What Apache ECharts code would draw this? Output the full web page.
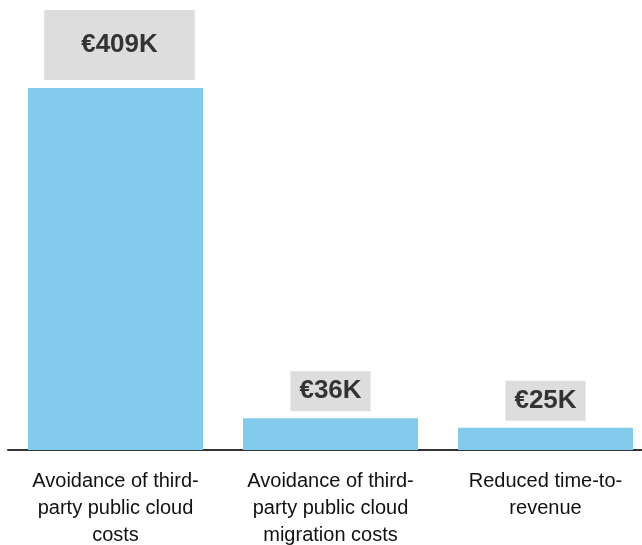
<!DOCTYPE html>
<html><head><meta charset="utf-8">
<script src="https://cdn.jsdelivr.net/npm/echarts@6/dist/echarts.min.js"></script>
<style>html,body{margin:0;padding:0;background:#fff;overflow:hidden;width:642px;height:545px}#c{width:660px;height:545px}</style>
</head><body><div id="c"></div>
<script>
const categories = ["Avoidance of third-\nparty public cloud\ncosts", "Avoidance of third-\nparty public cloud\nmigration costs", "Reduced time-to-\nrevenue"];
const values = [409, 36, 25];
const valueLabels = ["€409K", "€36K", "€25K"];

const chart = echarts.init(document.getElementById('c'), null, {renderer: 'canvas', width: 660, height: 545});
const data = values.map((v, i) => ({
  value: v,
  label: i === 0 ? {padding: [22, 37, 22, 37], offset: [4, 0], distance: 8} : {padding: [7, 9, 7, 9]}
}));
chart.setOption({
  animation: false,
  grid: {left: 8, width: 645, top: 88, height: 362, containLabel: false, outerBoundsMode: 'none'},
  xAxis: {
    type: 'category', data: categories,
    axisLine: {lineStyle: {color: '#333', width: 2}},
    axisTick: {show: false},
    axisLabel: {interval: 0, color: '#111', fontSize: 20, lineHeight: 27, margin: 18, fontFamily: 'Liberation Sans, Arial, sans-serif'}
  },
  yAxis: {type: 'value', min: 0, max: 'dataMax', show: false, splitLine: {show: false}},
  series: [{
    type: 'bar', data: data, barWidth: 175,
    itemStyle: {color: '#82CBEC'},
    label: {
      show: true, position: 'top', distance: 7,
      formatter: p => valueLabels[p.dataIndex],
      backgroundColor: '#DDDDDD', color: '#333',
      fontSize: 26, fontWeight: 'bold', fontFamily: 'Liberation Sans, Arial, sans-serif'
    }
  }]
});
</script></body></html>
